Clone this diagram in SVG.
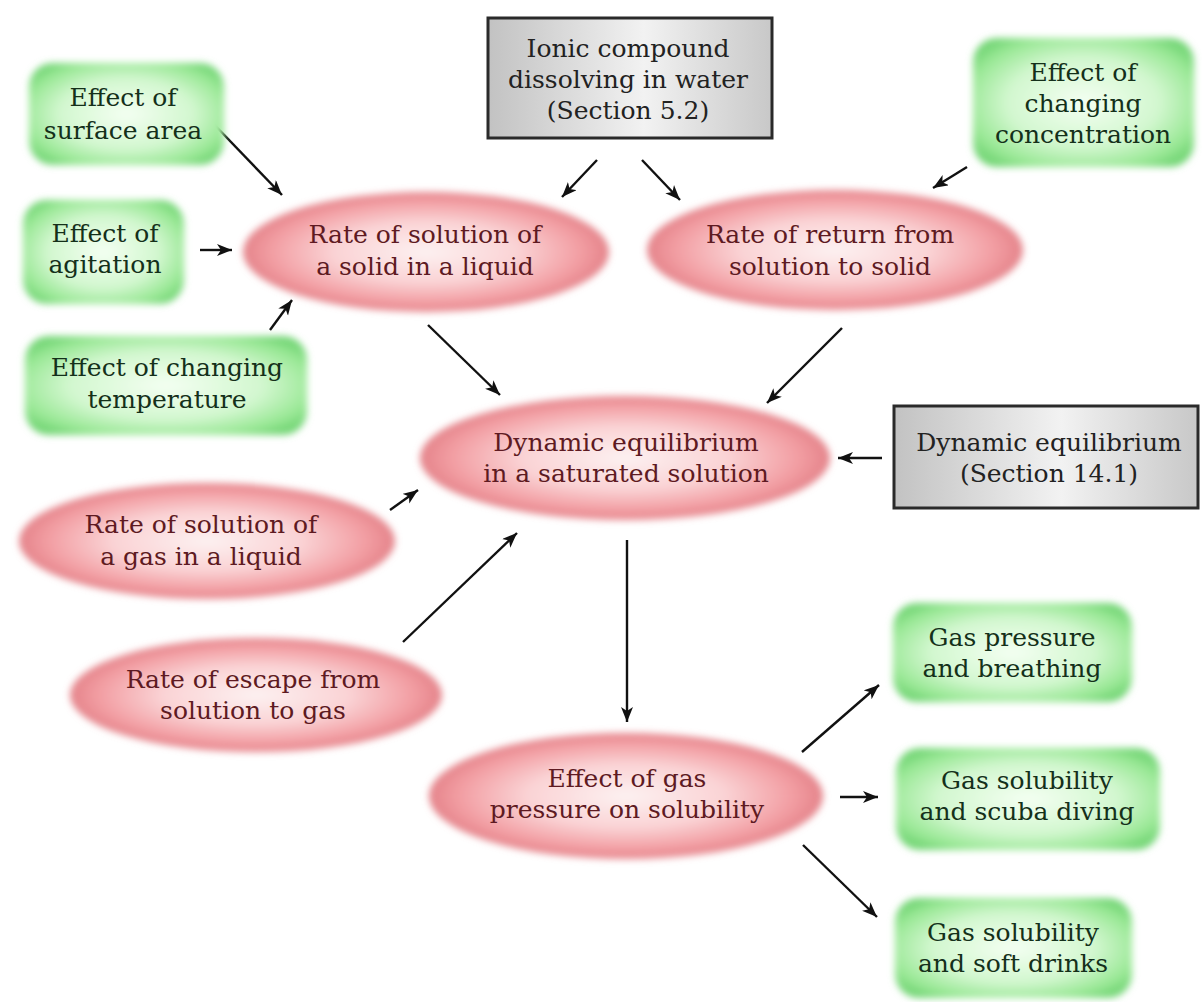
<svg xmlns="http://www.w3.org/2000/svg" width="1202" height="1002" viewBox="0 0 1202 1002">
<defs>
<style>
text{font-family:'DejaVu Serif','Liberation Serif',serif;font-size:25px;text-anchor:middle}
.gt{fill:#14301a}
.et{fill:#5e1a22}
.xt{fill:#222}
.gbox{fill:url(#gg);filter:url(#soft)}
.ell{fill:url(#pg);filter:url(#soft)}
.gray{fill:url(#grayg);stroke:#2a2a2a;stroke-width:3}
.arr{stroke:#111;stroke-width:2.4;fill:none;marker-end:url(#ah)}
</style>
<radialGradient id="gg" cx="0.5" cy="0.5" r="0.62">
<stop offset="0" stop-color="#f4fff2"/>
<stop offset="0.55" stop-color="#d2f7cf"/>
<stop offset="0.85" stop-color="#9ae896"/>
<stop offset="1" stop-color="#74d676"/>
</radialGradient>
<radialGradient id="pg" cx="0.5" cy="0.5" r="0.5">
<stop offset="0" stop-color="#fdf1f1"/>
<stop offset="0.5" stop-color="#fad3d5"/>
<stop offset="0.85" stop-color="#f29da2"/>
<stop offset="1" stop-color="#e4838a"/>
</radialGradient>
<linearGradient id="grayg" x1="0" y1="0" x2="1" y2="0">
<stop offset="0" stop-color="#c2c2c2"/>
<stop offset="0.55" stop-color="#f2f2f2"/>
<stop offset="1" stop-color="#c8c8c8"/>
</linearGradient>
<filter id="soft" x="-10%" y="-15%" width="120%" height="130%">
<feGaussianBlur stdDeviation="3.5"/>
</filter>
<marker id="ah" markerUnits="userSpaceOnUse" markerWidth="18" markerHeight="14" refX="15" refY="6" orient="auto">
<path d="M0,0 L15,6 L0,12 L4,6 z" fill="#111"/>
</marker>
</defs>
<rect width="1202" height="1002" fill="#fff"/>

<g id="connectors">
<line class="arr" x1="205" y1="115" x2="282" y2="195"/>
<line class="arr" x1="200" y1="250" x2="232" y2="250"/>
<line class="arr" x1="270" y1="330" x2="292" y2="300"/>
<line class="arr" x1="597" y1="160" x2="562" y2="197"/>
<line class="arr" x1="642" y1="160" x2="680" y2="200"/>
<line class="arr" x1="967" y1="167" x2="933" y2="188"/>
<line class="arr" x1="428" y1="325" x2="500" y2="395"/>
<line class="arr" x1="842" y1="328" x2="767" y2="403"/>
<line class="arr" x1="882" y1="458" x2="838" y2="458"/>
<line class="arr" x1="390" y1="510" x2="418" y2="490"/>
<line class="arr" x1="403" y1="642" x2="517" y2="533"/>
<line class="arr" x1="627" y1="540" x2="627" y2="722"/>
<line class="arr" x1="802" y1="752" x2="879" y2="685"/>
<line class="arr" x1="840" y1="797" x2="878" y2="797"/>
<line class="arr" x1="803" y1="845" x2="877" y2="917"/>
</g>

<g id="surface-area">
<rect class="gbox" x="29" y="63" width="195" height="102" rx="24"/>
<text class="gt" x="123" y="106">Effect of</text>
<text class="gt" x="123" y="139">surface area</text>
</g>
<g id="agitation">
<rect class="gbox" x="23" y="200" width="161" height="104" rx="24"/>
<text class="gt" x="105" y="242">Effect of</text>
<text class="gt" x="105" y="273">agitation</text>
</g>
<g id="temperature">
<rect class="gbox" x="25" y="336" width="282" height="99" rx="24"/>
<text class="gt" x="167" y="376">Effect of changing</text>
<text class="gt" x="167" y="408">temperature</text>
</g>
<g id="ionic">
<rect class="gray" x="488" y="18" width="284" height="120"/>
<text class="xt" x="628" y="57">Ionic compound</text>
<text class="xt" x="628" y="88">dissolving in water</text>
<text class="xt" x="628" y="119">(Section 5.2)</text>
</g>
<g id="concentration">
<rect class="gbox" x="973" y="38" width="221" height="129" rx="24"/>
<text class="gt" x="1083" y="81">Effect of</text>
<text class="gt" x="1083" y="112">changing</text>
<text class="gt" x="1083" y="143">concentration</text>
</g>
<g id="solid-rate">
<ellipse class="ell" cx="426" cy="252" rx="183" ry="60"/>
<text class="et" x="425" y="243">Rate of solution of</text>
<text class="et" x="425" y="275">a solid in a liquid</text>
</g>
<g id="return-rate">
<ellipse class="ell" cx="835" cy="250" rx="188" ry="60"/>
<text class="et" x="830" y="243">Rate of return from</text>
<text class="et" x="830" y="275">solution to solid</text>
</g>
<g id="dynamic">
<ellipse class="ell" cx="625" cy="458" rx="205" ry="62"/>
<text class="et" x="626" y="451">Dynamic equilibrium</text>
<text class="et" x="626" y="482">in a saturated solution</text>
</g>
<g id="section14">
<rect class="gray" x="894" y="406" width="304" height="102"/>
<text class="xt" x="1049" y="451">Dynamic equilibrium</text>
<text class="xt" x="1049" y="482">(Section 14.1)</text>
</g>
<g id="gas-rate">
<ellipse class="ell" cx="207" cy="541" rx="188" ry="58"/>
<text class="et" x="201" y="533">Rate of solution of</text>
<text class="et" x="201" y="565">a gas in a liquid</text>
</g>
<g id="escape-rate">
<ellipse class="ell" cx="256" cy="695" rx="186" ry="57"/>
<text class="et" x="253" y="688">Rate of escape from</text>
<text class="et" x="253" y="719">solution to gas</text>
</g>
<g id="pressure-effect">
<ellipse class="ell" cx="626" cy="796" rx="197" ry="63"/>
<text class="et" x="627" y="787">Effect of gas</text>
<text class="et" x="627" y="818">pressure on solubility</text>
</g>
<g id="breathing">
<rect class="gbox" x="893" y="603" width="239" height="99" rx="24"/>
<text class="gt" x="1012" y="646">Gas pressure</text>
<text class="gt" x="1012" y="677">and breathing</text>
</g>
<g id="scuba">
<rect class="gbox" x="896" y="748" width="264" height="102" rx="24"/>
<text class="gt" x="1027" y="789">Gas solubility</text>
<text class="gt" x="1027" y="820">and scuba diving</text>
</g>
<g id="soft-drinks">
<rect class="gbox" x="895" y="898" width="237" height="100" rx="24"/>
<text class="gt" x="1013" y="941">Gas solubility</text>
<text class="gt" x="1013" y="972">and soft drinks</text>
</g>
</svg>
